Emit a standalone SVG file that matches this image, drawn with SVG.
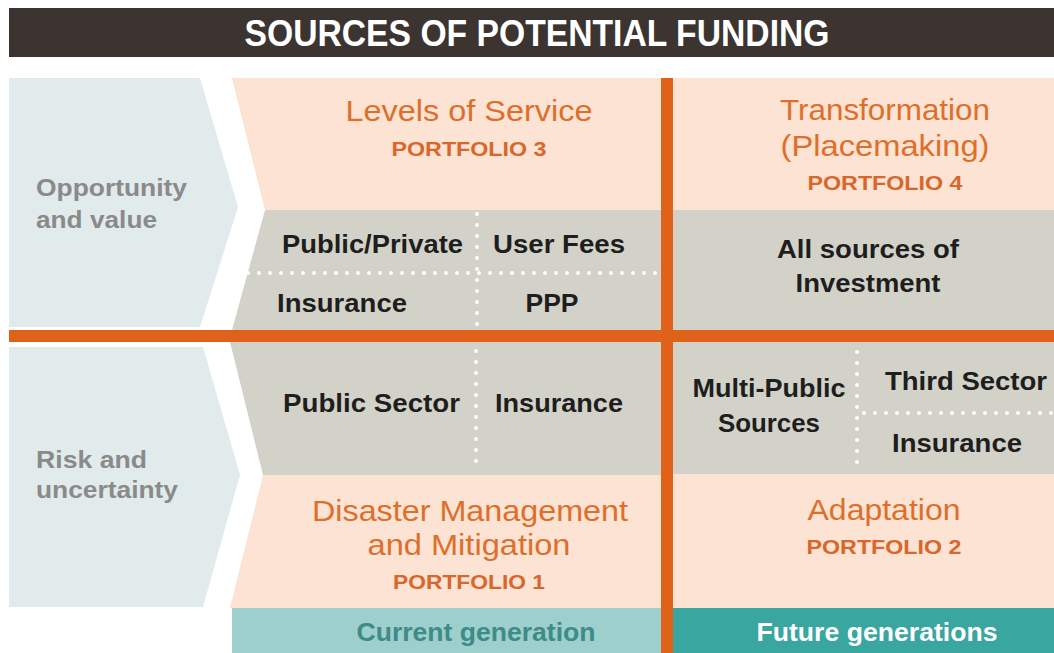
<svg xmlns="http://www.w3.org/2000/svg" width="1054" height="653" viewBox="0 0 1054 653">
<style>
text{font-family:"Liberation Sans",Arial,sans-serif}
.ttl{font-size:36px;font-weight:bold;fill:#ffffff}
.big{font-size:30px;fill:#de6f2b}
.pf{font-size:20px;font-weight:bold;fill:#d9662a}
.side{font-size:24px;font-weight:bold;fill:#8a8a8a}
.src{font-size:25px;font-weight:bold;fill:#1e1e1e}
.gen{font-size:26px;font-weight:bold}
.peach{fill:#fce3d3}
.gray{fill:#d3d2c8}
.blue{fill:#e1ebeb}
.dots{stroke:#ffffff;stroke-width:4;stroke-linecap:round;stroke-dasharray:0 11;fill:none}
.orange{fill:#e0621a}
</style>
<rect width="1054" height="653" fill="#ffffff"/>
<g id="title">
<rect x="9" y="8" width="1045" height="49" fill="#3b3431"/>
<text class="ttl" x="537" y="46" text-anchor="middle" textLength="585" lengthAdjust="spacingAndGlyphs">SOURCES OF POTENTIAL FUNDING</text>
</g>
<g id="opportunity">
<polygon class="blue" points="9,78 200,78 238,207 200,327 9,327"/>
<text class="side" x="36" y="196" textLength="151" lengthAdjust="spacingAndGlyphs">Opportunity</text>
<text class="side" x="36" y="228" textLength="121" lengthAdjust="spacingAndGlyphs">and value</text>
</g>
<g id="risk">
<polygon class="blue" points="9,347 203,347 240,475 203,607 9,607"/>
<text class="side" x="36" y="468" textLength="111" lengthAdjust="spacingAndGlyphs">Risk and</text>
<text class="side" x="36" y="498" textLength="142" lengthAdjust="spacingAndGlyphs">uncertainty</text>
</g>
<g id="portfolio3">
<polygon class="peach" points="232,78 662,78 662,210 265,210"/>
<text class="big" x="469" y="121" text-anchor="middle" textLength="247" lengthAdjust="spacingAndGlyphs">Levels of Service</text>
<text class="pf" x="469" y="156" text-anchor="middle" textLength="155" lengthAdjust="spacingAndGlyphs">PORTFOLIO 3</text>
</g>
<g id="sources3">
<polygon class="gray" points="265,210 662,210 662,330 232,330"/>
<text class="src" x="282" y="253" textLength="181" lengthAdjust="spacingAndGlyphs">Public/Private</text>
<text class="src" x="493" y="253" textLength="132" lengthAdjust="spacingAndGlyphs">User Fees</text>
<text class="src" x="277" y="312" textLength="130" lengthAdjust="spacingAndGlyphs">Insurance</text>
<text class="src" x="552" y="312" text-anchor="middle" textLength="53" lengthAdjust="spacingAndGlyphs">PPP</text>
</g>
<g id="portfolio4">
<rect class="peach" x="673" y="78" width="381" height="132"/>
<text class="big" x="885" y="120" text-anchor="middle" textLength="210" lengthAdjust="spacingAndGlyphs">Transformation</text>
<text class="big" x="885" y="156" text-anchor="middle" textLength="209" lengthAdjust="spacingAndGlyphs">(Placemaking)</text>
<text class="pf" x="885" y="190" text-anchor="middle" textLength="155" lengthAdjust="spacingAndGlyphs">PORTFOLIO 4</text>
</g>
<g id="sources4">
<rect class="gray" x="673" y="210" width="381" height="120"/>
<text class="src" x="868" y="258" text-anchor="middle" textLength="182" lengthAdjust="spacingAndGlyphs">All sources of</text>
<text class="src" x="868" y="292" text-anchor="middle" textLength="145" lengthAdjust="spacingAndGlyphs">Investment</text>
</g>
<g id="sources1">
<polygon class="gray" points="230,342 662,342 662,475 263,475"/>
<text class="src" x="283" y="412" textLength="177" lengthAdjust="spacingAndGlyphs">Public Sector</text>
<text class="src" x="495" y="412" textLength="128" lengthAdjust="spacingAndGlyphs">Insurance</text>
</g>
<g id="portfolio1">
<polygon class="peach" points="263,475 662,475 662,608 230,608"/>
<text class="big" x="470" y="521" text-anchor="middle" textLength="316" lengthAdjust="spacingAndGlyphs">Disaster Management</text>
<text class="big" x="469" y="555" text-anchor="middle" textLength="203" lengthAdjust="spacingAndGlyphs">and Mitigation</text>
<text class="pf" x="469" y="589" text-anchor="middle" textLength="152" lengthAdjust="spacingAndGlyphs">PORTFOLIO 1</text>
</g>
<g id="sources2">
<rect class="gray" x="673" y="342" width="381" height="132"/>
<text class="src" x="769" y="397" text-anchor="middle" textLength="153" lengthAdjust="spacingAndGlyphs">Multi-Public</text>
<text class="src" x="769" y="432" text-anchor="middle" textLength="102" lengthAdjust="spacingAndGlyphs">Sources</text>
<text class="src" x="885" y="390" textLength="162" lengthAdjust="spacingAndGlyphs">Third Sector</text>
<text class="src" x="892" y="452" textLength="130" lengthAdjust="spacingAndGlyphs">Insurance</text>
</g>
<g id="portfolio2">
<rect class="peach" x="673" y="474" width="381" height="134"/>
<text class="big" x="884" y="520" text-anchor="middle" textLength="153" lengthAdjust="spacingAndGlyphs">Adaptation</text>
<text class="pf" x="884" y="554" text-anchor="middle" textLength="155" lengthAdjust="spacingAndGlyphs">PORTFOLIO 2</text>
</g>
<g id="current">
<rect x="232" y="608" width="430" height="45" fill="#9dcfcc"/>
<text class="gen" x="476" y="641" text-anchor="middle" fill="#3e8c88" textLength="239" lengthAdjust="spacingAndGlyphs">Current generation</text>
</g>
<g id="future">
<rect x="673" y="608" width="381" height="45" fill="#3aa6a0"/>
<text class="gen" x="877" y="641" text-anchor="middle" fill="#ffffff" textLength="241" lengthAdjust="spacingAndGlyphs">Future generations</text>
</g>
<g id="connectors">
<path class="dots" d="M477,214 V328"/>
<path class="dots" d="M248,273 H660"/>
<path class="dots" d="M476,351 V470"/>
<path class="dots" d="M857,352 V466"/>
<path class="dots" d="M864,413 H1054"/>
<rect class="orange" x="9" y="330" width="1045" height="12"/>
<rect class="orange" x="661" y="78" width="12" height="575"/>
</g>
</svg>
